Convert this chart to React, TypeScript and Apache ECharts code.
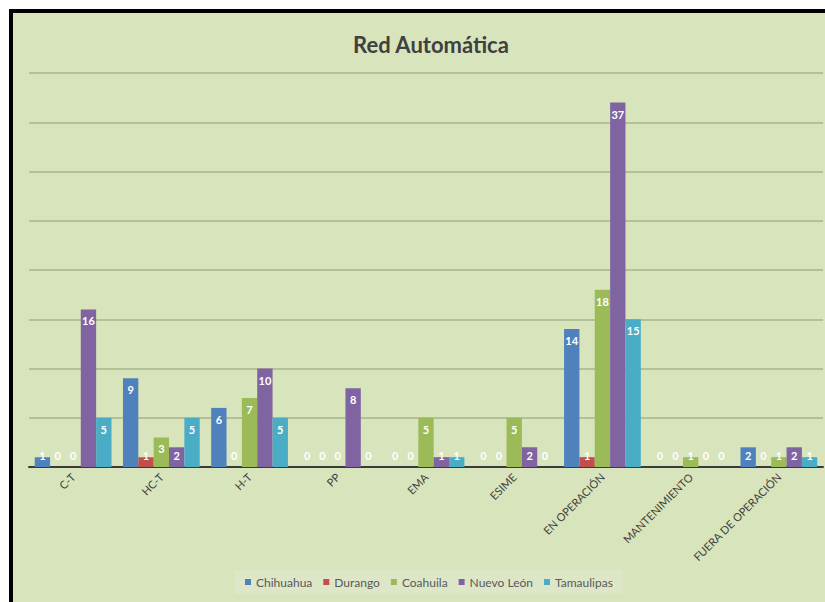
import React, { useEffect, useRef } from "react";
import * as echarts from "echarts";

const categories = [
  "C-T",
  "HC-T",
  "H-T",
  "PP",
  "EMA",
  "ESIME",
  "EN OPERACIÓN",
  "MANTENIMIENTO",
  "FUERA DE OPERACIÓN",
];
const chihuahua = [1, 9, 6, 0, 0, 0, 14, 0, 2];
const durango = [0, 1, 0, 0, 0, 0, 1, 0, 0];
const coahuila = [0, 3, 7, 0, 5, 5, 18, 1, 1];
const nuevoLeon = [16, 2, 10, 8, 1, 2, 37, 0, 2];
const tamaulipas = [5, 5, 5, 0, 1, 0, 15, 0, 1];

const seriesNames = ["Chihuahua", "Durango", "Coahuila", "Nuevo León", "Tamaulipas"];
const seriesValues = [chihuahua, durango, coahuila, nuevoLeon, tamaulipas];
const seriesColors = ["#4f81bd", "#c0504d", "#9bbb59", "#8064a2", "#4bacc6"];

const FONT = "Lato, 'Open Sans', sans-serif";

export default function App() {
  const ref = useRef<HTMLDivElement>(null);

  useEffect(() => {
    if (!ref.current) return;
    const chart = echarts.init(ref.current, undefined, { renderer: "svg" });

    const series = seriesNames.map((name, i) => ({
      name,
      type: "bar",
      barGap: "0%",
      barCategoryGap: "13%",
      itemStyle: { color: seriesColors[i] },
      label: {
        show: true,
        color: "#ffffff",
        fontSize: 11,
        fontWeight: "bold",
        fontFamily: FONT,
        distance: 6,
      },
      // short bars keep their label just above the base, the rest at the inside end
      data: seriesValues[i].map((v) => ({
        value: v,
        label: { position: v >= 3 ? "insideTop" : "insideBottom" },
      })),
    }));

    chart.setOption({
      animation: false,
      backgroundColor: "#d8e4bc",
      textStyle: { fontFamily: FONT },
      title: {
        text: "Red Automática",
        left: 413,
        textAlign: "center",
        top: 15,
        textStyle: {
          fontFamily: FONT,
          fontSize: 22,
          fontWeight: "bold",
          color: "#404040",
        },
      },
      legend: {
        bottom: 8,
        left: 222,
        icon: "rect",
        itemWidth: 6,
        itemHeight: 6,
        itemGap: 11,
        backgroundColor: "#dde7c8",
        padding: [6, 10],
        textStyle: { fontFamily: FONT, fontSize: 12, color: "#595959" },
        data: seriesNames,
      },
      grid: { left: 16, right: 2, top: 60, bottom: 135, containLabel: false },
      xAxis: {
        type: "category",
        data: categories,
        axisTick: { show: false },
        axisLine: { lineStyle: { color: "#3a3a3a", width: 2 } },
        axisLabel: {
          rotate: 45,
          margin: 8,
          fontSize: 11,
          color: "#404040",
          fontFamily: FONT,
          interval: 0,
        },
      },
      yAxis: {
        type: "value",
        min: 0,
        max: 40,
        interval: 5,
        axisLabel: { show: false },
        axisLine: { show: false },
        axisTick: { show: false },
        splitLine: { lineStyle: { color: "#aab58e", width: 1.5 } },
      },
      series,
    });

    return () => chart.dispose();
  }, []);

  return (
    <div
      style={{
        position: "fixed",
        left: 9,
        top: 9,
        width: 900,
        height: 700,
        boxSizing: "border-box",
        borderLeft: "4px solid #000",
        borderTop: "4px solid #000",
        background: "#d8e4bc",
      }}
    >
      <div ref={ref} style={{ width: 812, height: 589 }} />
    </div>
  );
}
